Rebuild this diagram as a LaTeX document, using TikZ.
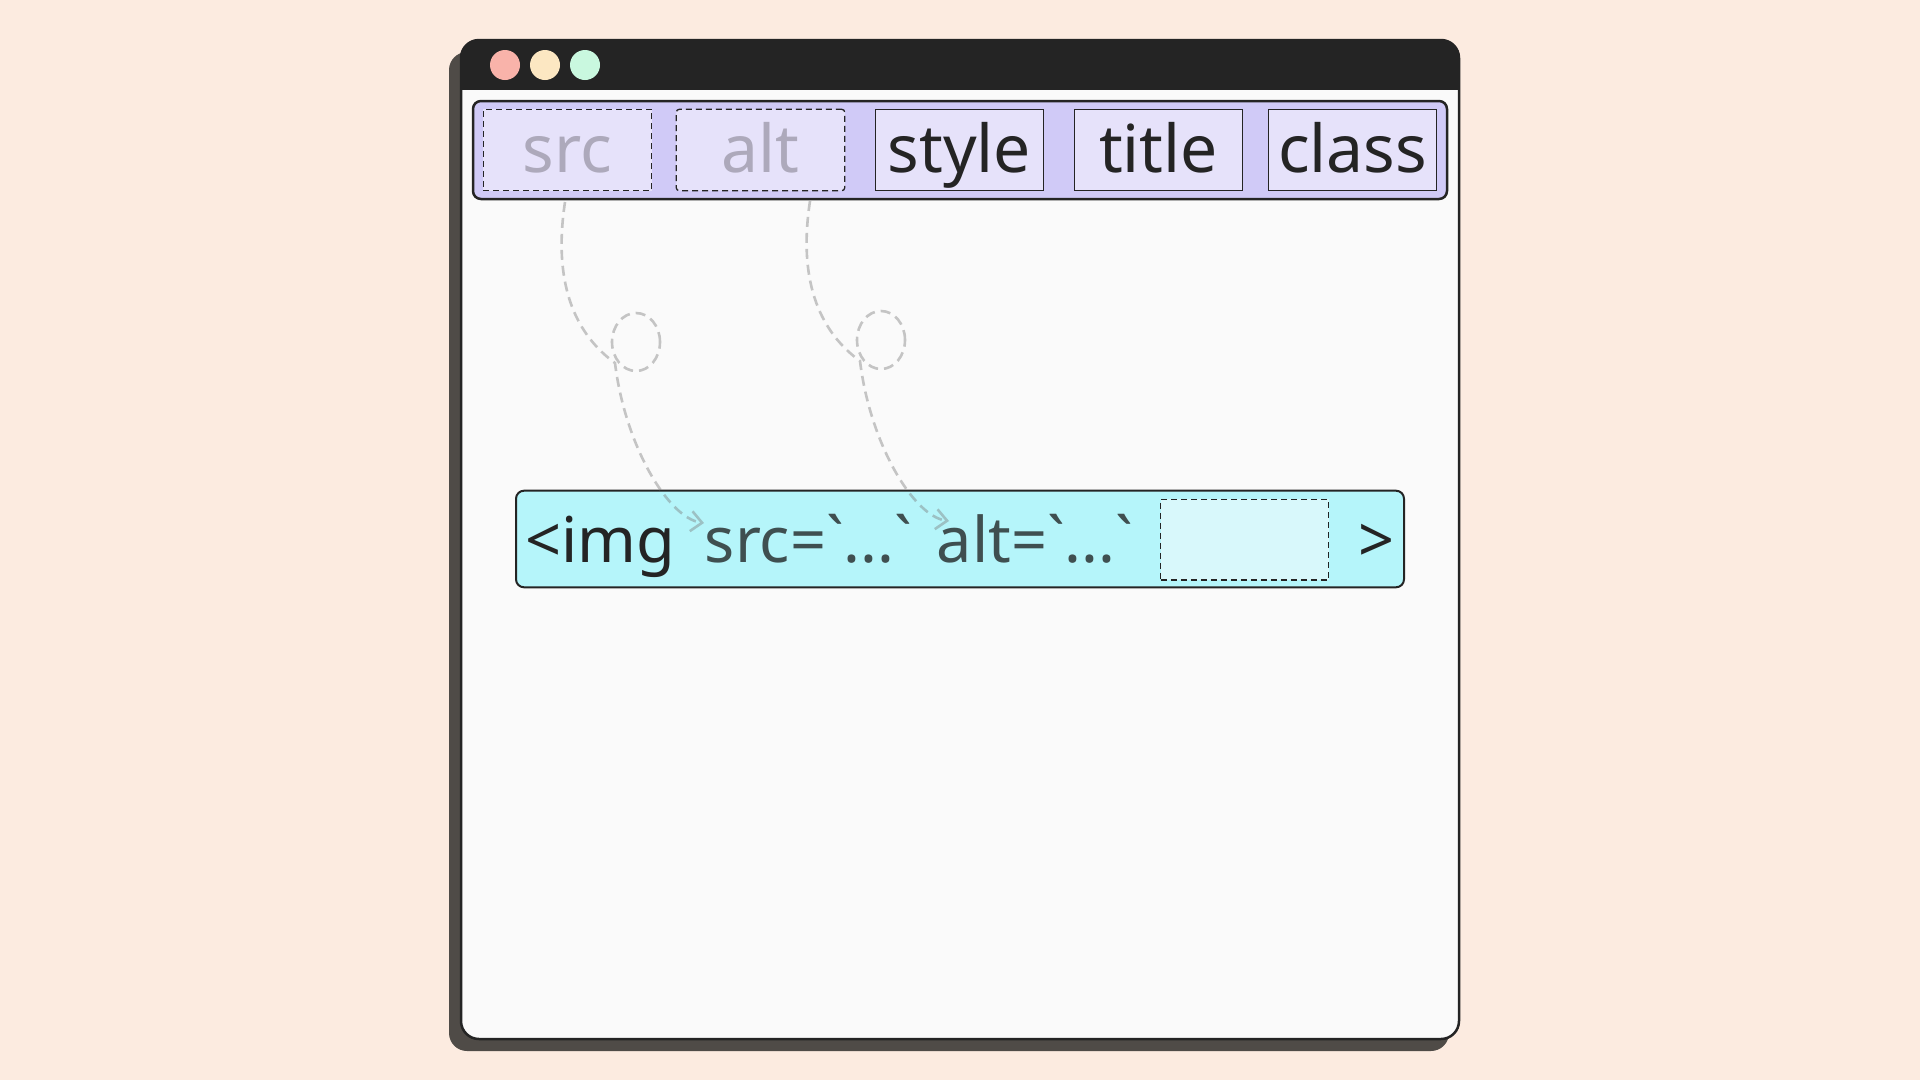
\documentclass[tikz,border=0pt]{standalone}
\usepackage{fontspec}
\setmainfont{Noto Sans}[Ligatures=TeXOff]
\usetikzlibrary{arrows.meta}

\definecolor{pagebg}{HTML}{FCEBE0}
\definecolor{winshadow}{HTML}{4F4B47}
\definecolor{winbg}{HTML}{FAFAFA}
\definecolor{ink}{HTML}{242424}
\definecolor{lightred}{HTML}{F9B3AA}
\definecolor{lightyellow}{HTML}{FCE7C2}
\definecolor{lightgreen}{HTML}{C9F8DF}
\definecolor{barfill}{HTML}{D0CAF7}
\definecolor{chipfill}{HTML}{E6E2FA}
\definecolor{fadedtext}{HTML}{ADA9BB}
\definecolor{tagfill}{HTML}{B5F5FA}
\definecolor{slotfill}{HTML}{D8F8FB}
\definecolor{attrtext}{HTML}{3F4F50}
\definecolor{wire}{HTML}{7A7A7A}

\newcommand\chipfont{\fontsize{66}{72}\selectfont}
\newcommand\tagfont{\fontsize{63}{70}\selectfont}

\begin{document}
\begin{tikzpicture}[x=1pt,y=-1pt,
  light/.style={circle, minimum size=30pt, inner sep=0pt},
  chip/.style={draw=ink, line width=1.3pt, fill=chipfill,
    minimum width=168.5pt, minimum height=81.4pt, inner sep=0pt,
    text height=45.4pt, text depth=0pt, font=\chipfont, text=ink},
  usedchip/.style={chip, dash pattern=on 6pt off 4pt, text=fadedtext},
  slot/.style={draw=ink, line width=1.3pt, fill=slotfill,
    dash pattern=on 6pt off 4pt, minimum width=167.8pt,
    minimum height=80.7pt, inner sep=0pt},
  tagtext/.style={font=\tagfont, inner sep=0pt, anchor=base},
  wireline/.style={draw=wire, draw opacity=0.42, line width=2.6pt,
    dash pattern=on 10pt off 6pt},
  conn/.style={wireline, -{Straight Barb[length=11pt,width=20pt]}}]

% page
\fill[pagebg] (0,0) rectangle (1920,1080);
\useasboundingbox (0,0) rectangle (1920,1080);

% window with its drop shadow and title bar
\fill[winshadow, rounded corners=18pt] (449,52) rectangle (1449,1051);
\fill[winbg, rounded corners=18pt] (461,40) rectangle (1459,1039);
\begin{scope}
  \clip[rounded corners=18pt] (461,40) rectangle (1459,1039);
  \fill[ink] (461,40) rectangle (1459,90);
\end{scope}
\draw[ink, line width=2.5pt, rounded corners=18pt] (461,40) rectangle (1459,1039);

\node[light, fill=lightred]    (btnclose) at (505,65) {};
\node[light, fill=lightyellow] (btnmin)   at (545,65) {};
\node[light, fill=lightgreen]  (btnmax)   at (585,65) {};

% attribute bar
\draw[ink, line width=2.5pt, fill=barfill, rounded corners=8pt]
  (473,101) rectangle (1447,199);
\node[usedchip] (srcchip) at (567.4,150) {src};
\node[usedchip, rounded corners=3pt] (altchip) at (760.5,150) {alt};
\node[chip] (stylechip) at (959.5,150) {style};
\node[chip] (titlechip) at (1158.5,150) {title};
\node[chip] (classchip) at (1352.5,150) {class};

% the img tag
\node[draw=ink, line width=2pt, fill=tagfill, rounded corners=8pt,
  minimum width=888pt, minimum height=96.6pt, inner sep=0pt] (tag) at (960,539) {};
\node[slot] (emptyslot) at (1244.7,539.6) {};
\node[tagtext, text=ink] (opentag) at (600,562.7) {<img};
\node[tagtext, text=attrtext] (srcattr) at (808.5,562.7) {src=\textasciigrave...\textasciigrave};
\node[tagtext, text=attrtext] (altattr) at (1035,562.7) {alt=\textasciigrave...\textasciigrave};
\node[tagtext, text=ink, font=\tagfont\bfseries] (closetag) at (1376.3,562.7) {>};

% looping connectors from the used chips into the tag
\coordinate (s1) at (565,202);
\coordinate (j1) at (615,363);
\coordinate (l1) at (636,342);
\coordinate (t1) at (704,523);
\coordinate (s2) at (810,201);
\coordinate (j2) at (860,361);
\coordinate (l2) at (881,340);
\coordinate (t2) at (949,521);

\draw[wireline] (l1) ellipse [x radius=24pt, y radius=29pt];
\draw[conn] (s1) .. controls (552,288) and (578,336) .. (j1)
  .. controls (625,445) and (668,518) .. (t1);
\draw[wireline] (l2) ellipse [x radius=24pt, y radius=29pt];
\draw[conn] (s2) .. controls (797,286) and (823,334) .. (j2)
  .. controls (870,443) and (913,516) .. (t2);
\end{tikzpicture}
\end{document}
